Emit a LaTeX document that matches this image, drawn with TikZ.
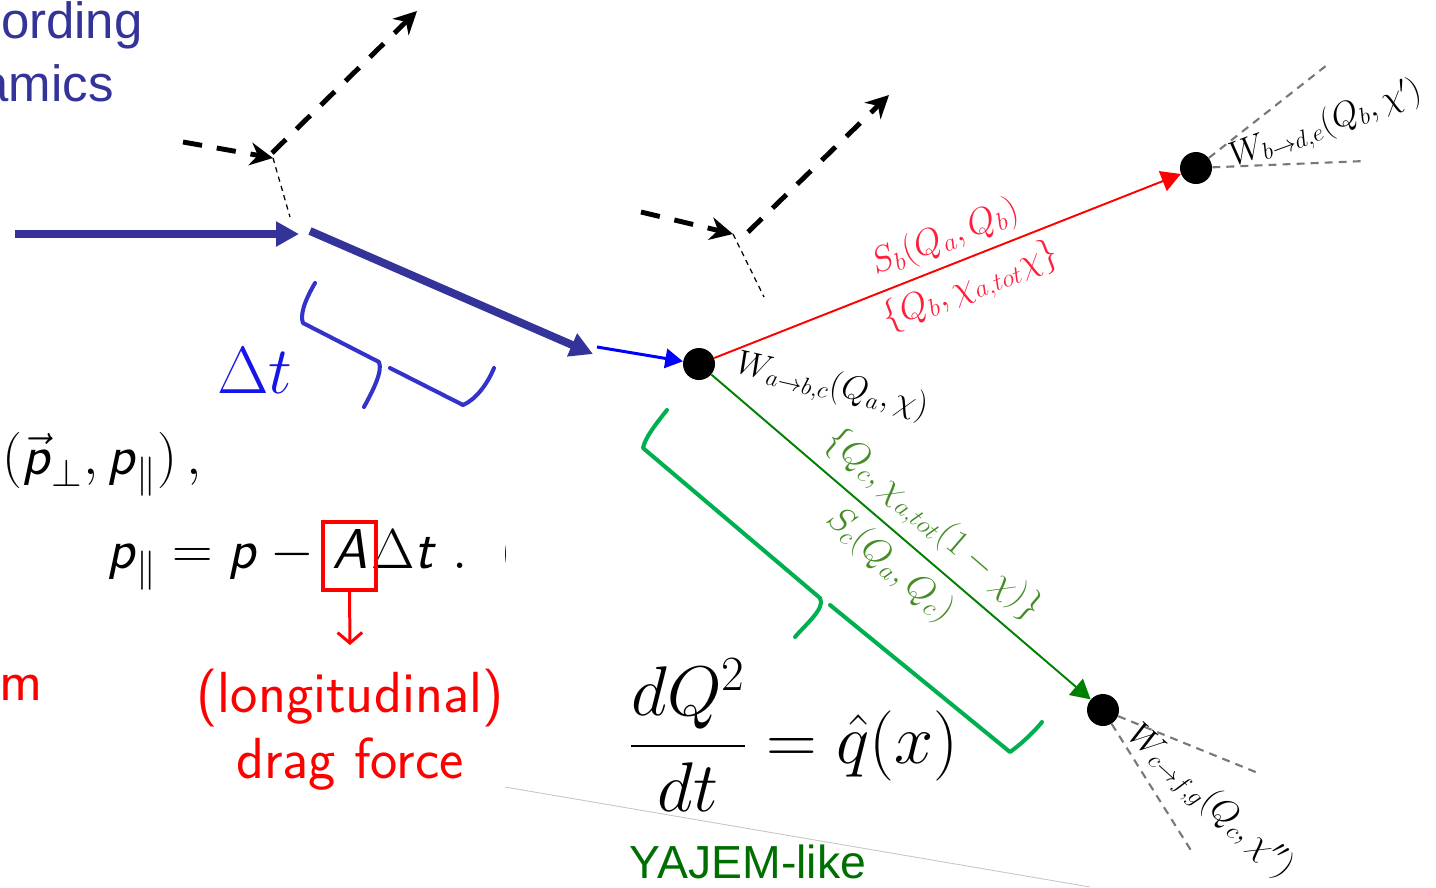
\documentclass[tikz,border=0pt]{standalone}
\usepackage{fix-cm}
\usepackage{amsmath}
\usepackage{fontspec}
\newfontfamily\arialfont{Liberation Sans}
\usetikzlibrary{arrows.meta,positioning}
\definecolor{slideblue}{RGB}{51,51,153}
\definecolor{bracketblue}{RGB}{51,51,204}
\definecolor{deltablue}{RGB}{20,20,235}
\definecolor{bracegreen}{RGB}{0,176,80}
\definecolor{yajemgreen}{RGB}{0,110,0}
\definecolor{labelgreen}{RGB}{70,140,40}
\definecolor{labelred}{RGB}{255,30,60}
\definecolor{conegray}{RGB}{120,120,120}
\newcommand{\sv}[1]{\textsf{\textit{#1}}}
\tikzset{
  vertex/.style={circle,fill=black,inner sep=0pt,minimum size=0.64cm},
  thickflow/.style={slideblue,line width=4.5pt,-{Triangle[length=13pt,width=13.5pt]}},
  probeflow/.style={blue,line width=1.7pt,-{Triangle[length=10pt,width=11pt]}},
  scatter/.style={line width=2.8pt,dash pattern=on 11pt off 8.5pt,-{Stealth[length=13pt,width=13pt]}},
  tether/.style={line width=0.7pt,dash pattern=on 3pt off 2.5pt},
  cone/.style={conegray,line width=1.2pt,dash pattern=on 4.5pt off 3.5pt},
  brace/.style={line width=2.3pt,line cap=round,line join=round},
  wlbl/.style={font=\fontsize{19.5}{23}\selectfont,inner sep=0pt},
  lbl/.style={font=\fontsize{20.5}{24}\selectfont,inner sep=0pt},
  slidetext/.style={font=\arialfont\fontsize{29}{34}\selectfont,inner sep=0pt},
  sansmath/.style={font=\fontsize{32}{38}\selectfont,inner sep=0pt},
  dragtext/.style={red,font=\sffamily\fontsize{33}{37.4}\selectfont,inner sep=0pt}
}
\begin{document}
\begin{tikzpicture}[x=0.02cm,y=-0.02cm]
  \useasboundingbox (0,0) rectangle (1436,887);
  % text cut from the slide on the left
  \node[slidetext,slideblue,anchor=base east] (ording) at (143,38) {ording};
  \node[slidetext,slideblue,anchor=base east] (amics) at (114,101) {amics};
  \node[sansmath,anchor=base west] (pvec) at (2,474) {$(\vec{\mbox{\sv{p}}}_{\perp},\mbox{\sv{p}}_{\|})\,,$};
  \node[sansmath,anchor=base east] (pleft) at (327,568) {$\mbox{\sv{p}}_{\|} = \mbox{\sv{p}} - {}$};
  \node[sansmath,anchor=base] (aletter) at (350,568) {\sv{A}};
  \node[sansmath,anchor=base west] (pright) at (371,568) {$\Delta\mbox{\sv{t}}\;.$};
  \begin{scope}
    \clip (495,520) rectangle (505.5,600);
    \node[sansmath,anchor=base west] (eqno) at (500,568) {(};
  \end{scope}
  \node[draw=red,line width=2.3pt,minimum width=1.06cm,minimum height=1.36cm,inner sep=0pt] (abox) at (349.5,556) {};
  \coordinate (dragtip) at (350,645);
  \draw[red,line width=1.7pt,-{Straight Barb[length=6pt,width=14pt]}] (abox.south) -- (dragtip);
  \node[dragtext,align=center,anchor=base] (drag) at (350,778) {(longitudinal)\\drag force};
  \node[dragtext,anchor=base east] (mfrag) at (43,700) {m};
  \draw[gray!45,line width=0.5pt] (505,787) -- (1090,887);
  % incoming parton and drag step
  \coordinate (inflow) at (15,234);
  \coordinate (kink) at (299,234);
  \coordinate (dragstart) at (310,231);
  \coordinate (dragend) at (593,354);
  \coordinate (probe) at (597,347);
  \draw[thickflow] (inflow) -- (kink);
  \draw[thickflow] (dragstart) -- (dragend);
  \node[vertex] (va) at (699,364) {};
  \node[vertex] (vb) at (1196,168) {};
  \node[vertex] (vc) at (1103,710) {};
  \draw[probeflow] (probe) -- (va);
  \draw[red,line width=1.1pt,-{Triangle[length=11pt,width=12pt]}] (va) -- (vb);
  \draw[green!50!black,line width=1.1pt,-{Triangle[length=11pt,width=12pt]}] (va) -- (vc);
  % medium kicks
  \coordinate (gin1) at (183,142);
  \coordinate (gv1) at (273,158);
  \coordinate (gs1) at (272,153);
  \coordinate (gout1) at (417,11);
  \coordinate (gfoot1) at (290,217);
  \draw[scatter] (gin1) -- (gv1);
  \draw[scatter] (gs1) -- (gout1);
  \draw[tether] (gv1) -- (gfoot1);
  \coordinate (gin2) at (641,212);
  \coordinate (gv2) at (733,234);
  \coordinate (gs2) at (748,232);
  \coordinate (gout2) at (889,95);
  \coordinate (gfoot2) at (764,297);
  \draw[scatter] (gin2) -- (gv2);
  \draw[scatter] (gs2) -- (gout2);
  \draw[tether] (gv2) -- (gfoot2);
  % cones
  \coordinate (coneb1) at (1327,65);
  \coordinate (coneb2) at (1365,161);
  \coordinate (conec1) at (1258,773);
  \coordinate (conec2) at (1192,852);
  \draw[cone] (vb) -- (coneb1);
  \draw[cone] (vb) -- (coneb2);
  \draw[cone] (vc) -- (conec1);
  \draw[cone] (vc) -- (conec2);
  % braces
  \draw[brace,bracketblue] (315,283) .. controls (304,302) and (300,315) .. (303,323) -- (379,362) .. controls (383,372) and (372,392) .. (364,407);
  \draw[brace,bracketblue] (390,368) -- (463,405) .. controls (475,400) and (487,385) .. (494,368);
  \draw[brace,bracegreen] (667,410) .. controls (655,425) and (645,438) .. (643,448) -- (820,598) .. controls (826,608) and (805,625) .. (795,637);
  \draw[brace,bracegreen] (830,605) -- (1010,752) .. controls (1020,745) and (1034,732) .. (1042,722);
  \node[deltablue,font=\fontsize{38}{44}\selectfont,inner sep=0pt] (dt) at (255,371) {$\Delta t$};
  % splitting labels
  \node[wlbl,rotate=-13] (wa) at (832,387) {$W_{a\to b,c}(Q_a,\chi)$};
  \node[wlbl,rotate=20] (wb) at (1326,125) {$W_{b\to d,e}(Q_b,\chi')$};
  \node[wlbl,rotate=-42] (wc) at (1210,802) {$W_{c\to f,g}(Q_c,\chi'')$};
  \node[lbl,labelred,rotate=21.5] (sb) at (945,238) {$S_b(Q_a,Q_b)$};
  \node[lbl,labelred,rotate=21.5] (chib) at (971,287) {$\{Q_b,\chi_{a,tot}\chi\}$};
  \node[lbl,labelgreen,rotate=-40.6] (chic) at (933,525) {$\{Q_c,\chi_{a,tot}(1-\chi)\}$};
  \node[lbl,labelgreen,rotate=-40.6] (sc) at (890,565) {$S_c(Q_a,Q_c)$};
  \node[font=\fontsize{40}{46}\selectfont,inner sep=0pt] (rate) at (794,735) {$\displaystyle\frac{dQ^2}{dt} = \hat{q}(x)$};
  \node[yajemgreen,font=\arialfont\fontsize{26.4}{30}\selectfont,inner sep=0pt] (yajem) at (748,862) {YAJEM-like};
\end{tikzpicture}
\end{document}
